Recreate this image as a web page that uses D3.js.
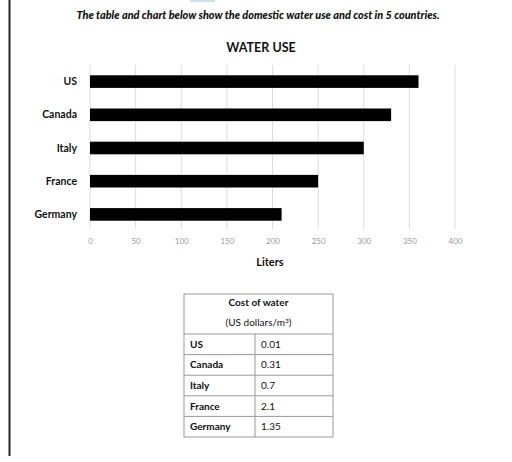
<!DOCTYPE html>
<html>
<head>
<meta charset="utf-8">
<script src="https://cdn.jsdelivr.net/npm/d3@7"></script>
<style>
  body { margin: 0; background: #fff; }
  svg { display: block; font-family: Lato, "Open Sans", sans-serif; }
</style>
</head>
<body>
<svg id="chart" width="512" height="462"></svg>
<script>
// chart data
var countries = ["US", "Canada", "Italy", "France", "Germany"];
var liters = [360, 330, 300, 250, 210];
var xTicks = [0, 50, 100, 150, 200, 250, 300, 350, 400];
// table data
var costs = ["0.01", "0.31", "0.7", "2.1", "1.35"];

var svg = d3.select("#chart");

// page border line on the left + faint mark at top
svg.append("line").attr("x1", 9.5).attr("x2", 9.5).attr("y1", 0).attr("y2", 456)
   .attr("stroke", "#222").attr("stroke-width", 2);
svg.append("line").attr("x1", 190).attr("x2", 215).attr("y1", 1).attr("y2", 1)
   .attr("stroke", "#cfe0ea").attr("stroke-width", 2);

svg.append("text").attr("x", 258).attr("y", 19).attr("text-anchor", "middle")
   .attr("font-size", 10.9).attr("font-weight", 900).attr("font-style", "italic")
   .attr("fill", "#111")
   .text("The table and chart below show the domestic water use and cost in 5 countries.");

svg.append("text").attr("x", 261).attr("y", 52).attr("text-anchor", "middle")
   .attr("font-size", 12.5).attr("font-weight", "bold").attr("fill", "#111")
   .text("WATER USE");

var x = d3.scaleLinear().domain([0, 400]).range([90, 455]);
var y = d3.scaleBand().domain(countries).range([65, 231]).paddingInner(0.62).paddingOuter(0.31);

// gridlines
svg.append("g").selectAll("line").data(xTicks).join("line")
   .attr("x1", function(d){ return x(d); }).attr("x2", function(d){ return x(d); })
   .attr("y1", 65).attr("y2", 229)
   .attr("stroke", "#dcdcdc").attr("stroke-width", 1);

// bars
svg.append("g").selectAll("rect").data(liters).join("rect")
   .attr("x", x(0))
   .attr("y", function(d, i){ return y(countries[i]); })
   .attr("width", function(d){ return x(d) - x(0); })
   .attr("height", y.bandwidth())
   .attr("fill", "#000");

// category labels
svg.append("g").selectAll("text").data(countries).join("text")
   .attr("x", 77)
   .attr("y", function(d){ return y(d) + y.bandwidth() / 2; })
   .attr("dy", "0.35em")
   .attr("text-anchor", "end")
   .attr("font-size", 10.5).attr("font-weight", "bold").attr("fill", "#111")
   .text(function(d){ return d; });

// x axis labels (no axis line)
var xAxis = d3.axisBottom(x).tickValues(xTicks).tickSize(0).tickPadding(0);
var gx = svg.append("g").attr("transform", "translate(0,238)").call(xAxis);
gx.select(".domain").remove();
gx.selectAll("text").attr("font-size", 8).attr("fill", "#999")
  .attr("font-family", "Lato, sans-serif");

svg.append("text").attr("x", 270).attr("y", 266).attr("text-anchor", "middle")
   .attr("font-size", 11).attr("font-weight", "bold").attr("fill", "#111")
   .text("Liters");

// table
var tb = { left: 184, right: 333, mid: 255, top: 294, head: 334, bottom: 437 };
var rowY = d3.scaleBand().domain(countries).range([tb.head, tb.bottom]);
var tg = svg.append("g");
tg.append("rect").attr("x", tb.left).attr("y", tb.top)
  .attr("width", tb.right - tb.left).attr("height", tb.bottom - tb.top)
  .attr("fill", "none").attr("stroke", "#999").attr("stroke-width", 1);
tg.selectAll("line.row").data(countries).join("line").attr("class", "row")
  .attr("x1", tb.left).attr("x2", tb.right)
  .attr("y1", function(d){ return rowY(d); }).attr("y2", function(d){ return rowY(d); })
  .attr("stroke", "#999");
tg.append("line").attr("x1", tb.mid).attr("x2", tb.mid).attr("y1", tb.head).attr("y2", tb.bottom)
  .attr("stroke", "#999");

tg.append("text").attr("x", (tb.left + tb.right) / 2).attr("y", 306).attr("text-anchor", "middle")
  .attr("font-size", 10).attr("font-weight", "bold").attr("fill", "#111").text("Cost of water");
var sub = tg.append("text").attr("x", (tb.left + tb.right) / 2).attr("y", 326).attr("text-anchor", "middle")
  .attr("font-size", 10).attr("fill", "#111");
sub.append("tspan").text("(US dollars/m");
sub.append("tspan").attr("font-size", 6.5).attr("dy", -3.5).text("3");
sub.append("tspan").attr("dy", 3.5).text(")");

tg.selectAll("text.name").data(countries).join("text").attr("class", "name")
  .attr("x", 190).attr("y", function(d){ return rowY(d) + rowY.bandwidth() / 2; })
  .attr("dy", "0.35em").attr("font-size", 10).attr("font-weight", "bold").attr("fill", "#111")
  .text(function(d){ return d; });
tg.selectAll("text.cost").data(costs).join("text").attr("class", "cost")
  .attr("x", 261).attr("y", function(d, i){ return rowY(countries[i]) + rowY.bandwidth() / 2; })
  .attr("dy", "0.35em").attr("font-size", 10).attr("fill", "#111")
  .text(function(d){ return d; });
</script>
</body>
</html>
